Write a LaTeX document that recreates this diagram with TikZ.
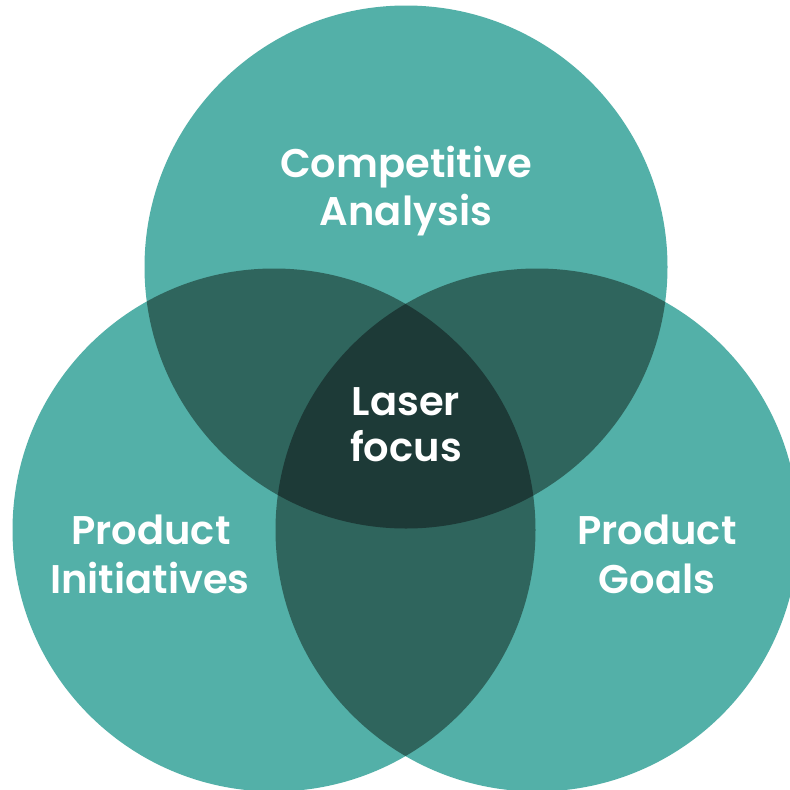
\documentclass[tikz,border=0pt]{standalone}
\usepackage{fontspec}
\setmainfont{Poppins}[BoldFont={Poppins SemiBold}]
\definecolor{tealbase}{RGB}{83,176,168}
\definecolor{tealmid}{RGB}{47,101,93}
\definecolor{tealdark}{RGB}{29,58,55}
\begin{document}
\begin{tikzpicture}[x=1pt,y=-1pt,
  lbl/.style={text=white,anchor=base,inner sep=0pt,font=\fontsize{40}{48}\selectfont\bfseries}]
\useasboundingbox (0,0) rectangle (790,790);
\fill[white] (0,0) rectangle (790,790);
\clip (0,0) rectangle (790,790);
\coordinate (T) at (406,267);
\coordinate (L) at (274,530);
\coordinate (R) at (537,530);
\def\rad{261.5pt}
\fill[tealbase] (T) circle[radius=\rad];
\fill[tealbase] (L) circle[radius=\rad];
\fill[tealbase] (R) circle[radius=\rad];
\begin{scope}
  \clip (T) circle[radius=\rad];
  \fill[tealmid] (L) circle[radius=\rad];
  \fill[tealmid] (R) circle[radius=\rad];
\end{scope}
\begin{scope}
  \clip (L) circle[radius=\rad];
  \fill[tealmid] (R) circle[radius=\rad];
\end{scope}
\begin{scope}
  \clip (T) circle[radius=\rad];
  \clip (L) circle[radius=\rad];
  \fill[tealdark] (R) circle[radius=\rad];
\end{scope}
\node[lbl] (ca1) at (406,177) {Competitive};
\node[lbl] (ca2) at (406,225) {Analysis};
\node[lbl] (lf1) at (406,415) {Laser};
\node[lbl] (lf2) at (406,461) {focus};
\node[lbl] (pi1) at (151,544) {Product};
\node[lbl] (pi2) at (150,593) {Initiatives};
\node[lbl] (pg1) at (657,544) {Product};
\node[lbl] (pg2) at (657,593) {Goals};
\end{tikzpicture}
\end{document}
